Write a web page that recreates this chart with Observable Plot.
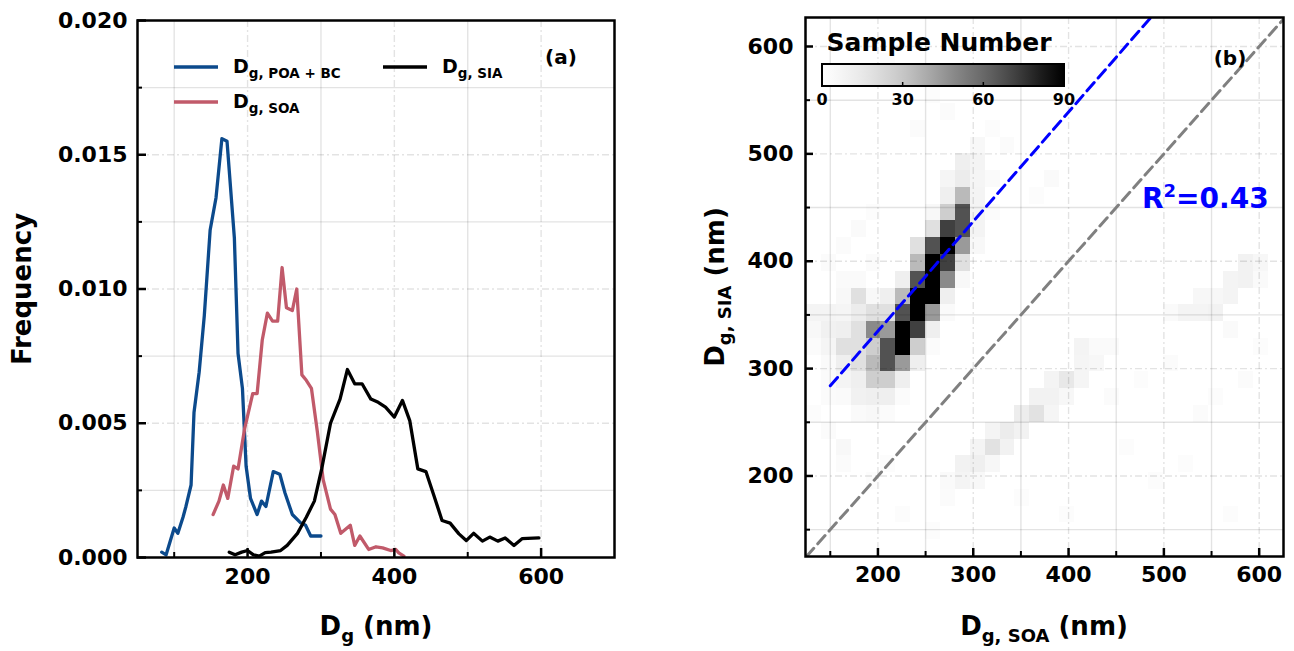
<!DOCTYPE html>
<html><head><meta charset="utf-8">
<script src="https://cdn.jsdelivr.net/npm/d3@7"></script>
<script src="https://cdn.jsdelivr.net/npm/@observablehq/plot@0.6"></script>
<style>
html,body{margin:0;padding:0;background:#fff;}
#wrap{position:relative;width:1294px;height:651px;overflow:hidden;font-family:"DejaVu Sans",sans-serif;}
#pa{position:absolute;left:0;top:0;}
#pb{position:absolute;left:640px;top:0;}
</style></head>
<body><div id="wrap"><div id="pa"></div><div id="pb"></div></div>
<script>
// ---------- Panel (a) data: frequency distributions ----------
const poaX = [83, 89, 100, 105, 112, 116, 123, 127, 134, 141, 149, 157, 165, 172, 182, 187, 193, 198, 204, 213, 219, 225, 235, 244, 251, 261, 272, 279, 286, 300];
const poaY = [0.0002, 0.0001, 0.0011, 0.0009, 0.0015, 0.0019, 0.0027, 0.0054, 0.0069, 0.0090, 0.0122, 0.0134, 0.0156, 0.0155, 0.0119, 0.0076, 0.0063, 0.0034, 0.0022, 0.0016, 0.0021, 0.0019, 0.0032, 0.0031, 0.0024, 0.0016, 0.0013, 0.0012, 0.0008, 0.0008];
const soaX = [153, 161, 167, 173, 181, 187, 196, 207, 213, 220, 227, 234, 241, 247, 253, 261, 267, 274, 280, 287, 295, 303, 313, 319, 327, 340, 346, 353, 365, 375, 384, 395, 402, 406, 413];
const soaY = [0.0016, 0.0021, 0.0027, 0.0022, 0.0034, 0.0033, 0.0048, 0.0061, 0.0061, 0.0081, 0.0091, 0.0088, 0.0088, 0.0108, 0.0093, 0.0092, 0.0100, 0.0068, 0.0066, 0.0063, 0.0047, 0.0029, 0.0018, 0.0016, 0.0009, 0.0012, 0.00045, 0.0008, 0.0003, 0.0004, 0.00036, 0.00026, 0.0003, 0.00017, 0.00005];
const siaX = [175, 183, 192, 200, 208, 216, 224, 232, 245, 254, 268, 280, 291, 301, 313, 326, 336, 346, 356, 368, 378, 388, 400, 411, 421, 432, 443, 454, 465, 476, 488, 498, 508, 520, 530, 541, 551, 563, 574, 597];
const siaY = [0.0002, 0.0001, 0.0002, 0.00026, 0.0001, 0.00005, 0.00018, 0.0002, 0.00026, 0.00045, 0.0009, 0.0015, 0.0021, 0.0033, 0.0050, 0.0059, 0.0070, 0.00647, 0.00647, 0.0059, 0.00578, 0.0056, 0.00523, 0.00585, 0.0051, 0.0033, 0.0032, 0.0023, 0.00138, 0.00128, 0.00088, 0.00063, 0.0009, 0.00061, 0.00076, 0.00061, 0.00073, 0.00045, 0.0007, 0.00073];

const xDomainA = [50, 700];
const yDomainA = [0, 0.02];
const xMajorA = [200, 400, 600];
const xMinorA = [100, 300, 500];
const yMajorA = [0, 0.005, 0.010, 0.015, 0.020];
const yMinorA = [0.0025, 0.0075, 0.0125, 0.0175];

// ---------- Panel (b) data: 2-D histogram (bin index SOA, bin index SIA, sample number) ----------
const binStart = 125, binStep = 15.625;
const heatCells = [
  [0,14,8],[0,13,5],[0,12,3],[0,8,2],
  [1,14,8],[1,13,10],[1,12,7],[1,11,4],[1,10,3],[1,9,3],[1,7,3],[1,17,3],
  [2,15,5],[2,14,7],[2,13,11],[2,12,19],[2,11,11],[2,10,8],[2,9,4],[2,6,5],[2,5,3],[2,16,4],[2,18,3],
  [3,16,4],[3,15,19],[3,14,13],[3,13,19],[3,12,19],[3,11,19],[3,10,11],[3,9,10],[3,8,4],[3,19,4],[3,28,2],
  [4,15,5],[4,14,19],[4,13,49],[4,12,27],[4,11,34],[4,10,27],[4,9,11],[4,8,5],[4,4,2],[4,17,3],[4,20,2],
  [5,15,11],[5,14,19],[5,13,44],[5,12,67],[5,11,67],[5,10,27],[5,9,11],[5,8,3],[5,5,2],[5,29,2],
  [6,16,11],[6,15,34],[6,14,67],[6,13,90],[6,12,90],[6,11,44],[6,10,11],[6,9,3],[6,2,2],[6,28,2],
  [7,18,19],[7,17,34],[7,16,67],[7,15,90],[7,14,90],[7,13,72],[7,12,27],[7,11,11],[7,25,3],
  [8,20,5],[8,19,19],[8,18,67],[8,17,90],[8,16,90],[8,15,90],[8,14,44],[8,13,11],[8,12,3],[8,27,2],[8,1,2],
  [9,22,7],[9,21,11],[9,20,27],[9,19,72],[9,18,90],[9,17,72],[9,16,49],[9,15,11],[9,14,4],[9,4,4],[9,3,3],[9,26,3],
  [10,23,11],[10,22,13],[10,21,34],[10,20,67],[10,19,67],[10,18,44],[10,17,19],[10,16,5],[10,4,8],[10,5,9],
  [11,24,5],[11,23,8],[11,22,7],[11,21,8],[11,20,8],[11,19,8],[11,18,5],[11,5,11],[11,6,8],[11,4,5],
  [12,22,4],[12,20,3],[12,6,18],[12,7,8],[12,5,6],[12,25,2],
  [13,6,9],[13,7,13],[13,24,3],
  [14,7,9],[14,8,12],[14,3,2],
  [15,8,18],[15,9,9],[15,21,2],
  [16,8,7],[16,9,9],[16,10,8],[16,22,4],
  [17,9,6],[17,10,15],[17,2,2],
  [18,11,7],[18,12,8],[18,10,7],
  [19,11,6],[19,12,4],
  [20,12,4],[20,9,3],[21,6,2],[22,10,2],[23,4,2],[24,11,3],[24,14,4],
  [25,14,8],[25,5,2],[26,14,8],[26,15,6],[26,8,3],[27,14,9],[27,15,6],[27,9,2],
  [28,15,8],[28,16,8],[28,13,4],[28,2,2],[29,16,9],[29,17,9],[29,10,3],[30,17,6],[30,16,4],[30,12,2]
];
const xDomainB = [124, 625.5];
const yDomainB = [125, 627];
const xyMajorB = [200, 300, 400, 500, 600];
const xyMinorB = [150, 250, 350, 450, 550];
const colorDomain = [0, 90];
const colorbarTicks = [0, 30, 60, 90];
const identityLine = [125, 625];
const fitSlope = 1.02, fitIntercept = 131, fitXRange = [150, 490];
const r2Text = "=0.43";

// ---------- helpers ----------
const FONT = "DejaVu Sans, sans-serif";
const gridStroke = "#000";
const gridOpacity = 0.11;
const dashDot = "7,3,2,3";
const pairs = (xs, ys) => xs.map((x, i) => ({x, y: ys[i]}));

function addSubText(svg, o) {
  const t = svg.append("text").attr("x", o.x).attr("y", o.y)
    .attr("text-anchor", o.anchor || "start")
    .attr("font-family", FONT).attr("font-weight", "bold")
    .attr("font-size", o.size).attr("fill", o.fill || "black");
  if (o.rotate) t.attr("transform", `rotate(-90,${o.x},${o.y})`);
  t.append("tspan").text(o.main);
  t.append("tspan").attr("font-size", o.subSize).attr("dy", o.shift).text(o.sub);
  if (o.tail) t.append("tspan").attr("font-size", o.size).attr("dy", -o.shift).text(o.tail);
  return t;
}

// ---------- Panel (a) ----------
const aW = 640, aH = 651, aM = {l: 137, r: 26, t: 20, b: 94};
const aPW = aW - aM.l - aM.r, aPH = aH - aM.t - aM.b;
const colPOA = "#0c4a8c", colSOA = "#c15a6a", colSIA = "#000000";

const plotA = Plot.plot({
  width: aW, height: aH,
  marginLeft: aM.l, marginRight: aM.r, marginTop: aM.t, marginBottom: aM.b,
  style: {fontFamily: FONT, fontSize: "22px", fontWeight: "bold", color: "black", background: "white"},
  x: {domain: xDomainA},
  y: {domain: yDomainA},
  marks: [
    Plot.ruleX(xMinorA, {x: d => d, stroke: gridStroke, strokeOpacity: gridOpacity, strokeWidth: 1.4}),
    Plot.ruleX(xMajorA, {x: d => d, stroke: gridStroke, strokeOpacity: gridOpacity, strokeWidth: 1.4, strokeDasharray: dashDot}),
    Plot.ruleY(yMinorA, {y: d => d, stroke: gridStroke, strokeOpacity: gridOpacity, strokeWidth: 1.4}),
    Plot.ruleY(yMajorA.slice(1, -1), {y: d => d, stroke: gridStroke, strokeOpacity: gridOpacity, strokeWidth: 1.4, strokeDasharray: dashDot}),
    Plot.line(pairs(poaX, poaY), {x: "x", y: "y", stroke: colPOA, strokeWidth: 3.3}),
    Plot.line(pairs(soaX, soaY), {x: "x", y: "y", stroke: colSOA, strokeWidth: 3.3}),
    Plot.line(pairs(siaX, siaY), {x: "x", y: "y", stroke: colSIA, strokeWidth: 3.3}),
    Plot.tickX(xMajorA, {x: d => d, insetTop: aPH - 9, stroke: "black", strokeWidth: 2.5}),
    Plot.tickX(xMinorA, {x: d => d, insetTop: aPH - 5, stroke: "black", strokeWidth: 2}),
    Plot.tickY(yMajorA, {y: d => d, insetRight: aPW - 9, stroke: "black", strokeWidth: 2.5}),
    Plot.tickY(yMinorA, {y: d => d, insetRight: aPW - 5, stroke: "black", strokeWidth: 2}),
    Plot.axisX({ticks: xMajorA, tickSize: 0, tickPadding: 11, label: null, fontSize: 22, fontWeight: "bold"}),
    Plot.axisY({ticks: yMajorA, tickSize: 0, tickPadding: 10, label: null, tickFormat: d3.format(".3f"), fontSize: 22, fontWeight: "bold"}),
    Plot.frame({stroke: "black", strokeWidth: 2.5})
  ]
});
document.getElementById("pa").appendChild(plotA);
const sa = d3.select(plotA);

// legend (a)
const legendA = [
  {color: colPOA, x: 174, y: 67, sub: "g, POA + BC"},
  {color: colSOA, x: 174, y: 102, sub: "g, SOA"},
  {color: colSIA, x: 383, y: 67, sub: "g, SIA"}
];
legendA.forEach(L => {
  sa.append("line").attr("x1", L.x).attr("x2", L.x + 44).attr("y1", L.y).attr("y2", L.y)
    .attr("stroke", L.color).attr("stroke-width", 3.5);
  addSubText(sa, {x: L.x + 59, y: L.y + 6, main: "D", sub: L.sub, size: 19, subSize: 13.5, shift: 5});
});
sa.append("text").attr("x", 561).attr("y", 64).attr("text-anchor", "middle")
  .attr("font-family", FONT).attr("font-weight", "bold").attr("font-size", 20).text("(a)");
sa.append("text").attr("x", 31).attr("y", 289).attr("text-anchor", "middle")
  .attr("transform", "rotate(-90,31,289)")
  .attr("font-family", FONT).attr("font-weight", "bold").attr("font-size", 26).text("Frequency");
addSubText(sa, {x: 376, y: 635, anchor: "middle", main: "D", sub: "g", tail: "\u00a0(nm)", size: 26, subSize: 18, shift: 7});

// ---------- Panel (b) ----------
const bW = 654, bH = 651, bM = {l: 165, r: 11, t: 17, b: 95};
const bPW = bW - bM.l - bM.r, bPH = bH - bM.t - bM.b;
const heat = heatCells.map(([c, r, n]) => ({
  x1: binStart + c * binStep, x2: binStart + (c + 1) * binStep,
  y1: binStart + r * binStep, y2: binStart + (r + 1) * binStep, n
}));

const plotB = Plot.plot({
  width: bW, height: bH,
  marginLeft: bM.l, marginRight: bM.r, marginTop: bM.t, marginBottom: bM.b,
  style: {fontFamily: FONT, fontSize: "22px", fontWeight: "bold", color: "black", background: "white"},
  x: {domain: xDomainB},
  y: {domain: yDomainB},
  color: {type: "linear", domain: colorDomain, scheme: "greys", clamp: true},
  marks: [
    Plot.rect(heat, {x1: "x1", x2: "x2", y1: "y1", y2: "y2", fill: "n", shapeRendering: "crispEdges"}),
    Plot.ruleX(xyMinorB, {x: d => d, stroke: gridStroke, strokeOpacity: gridOpacity, strokeWidth: 1.4}),
    Plot.ruleX(xyMajorB, {x: d => d, stroke: gridStroke, strokeOpacity: gridOpacity, strokeWidth: 1.4, strokeDasharray: dashDot}),
    Plot.ruleY(xyMinorB, {y: d => d, stroke: gridStroke, strokeOpacity: gridOpacity, strokeWidth: 1.4}),
    Plot.ruleY(xyMajorB, {y: d => d, stroke: gridStroke, strokeOpacity: gridOpacity, strokeWidth: 1.4, strokeDasharray: dashDot}),
    Plot.line(identityLine, {x: d => d, y: d => d, stroke: "#808080", strokeWidth: 3, strokeDasharray: "11,6", clip: true}),
    Plot.line(fitXRange, {x: d => d, y: d => fitSlope * d + fitIntercept, stroke: "#0000ff", strokeWidth: 3, strokeDasharray: "11,6", clip: true}),
    Plot.tickX(xyMajorB, {x: d => d, insetTop: bPH - 8, stroke: "black", strokeWidth: 2.5}),
    Plot.tickX(xyMinorB, {x: d => d, insetTop: bPH - 5, stroke: "black", strokeWidth: 2}),
    Plot.tickY(xyMajorB, {y: d => d, insetRight: bPW - 8, stroke: "black", strokeWidth: 2.5}),
    Plot.tickY(xyMinorB, {y: d => d, insetRight: bPW - 5, stroke: "black", strokeWidth: 2}),
    Plot.axisX({ticks: xyMajorB, tickSize: 0, tickPadding: 10, label: null, fontSize: 22, fontWeight: "bold"}),
    Plot.axisY({ticks: xyMajorB, tickSize: 0, tickPadding: 12, label: null, fontSize: 22, fontWeight: "bold"}),
    Plot.frame({stroke: "black", strokeWidth: 2.5})
  ]
});
document.getElementById("pb").appendChild(plotB);
const sb = d3.select(plotB);

// colorbar (inset)
const cbX = d3.scaleLinear(colorDomain, [182, 424]);
const cbY0 = 64, cbY1 = 86;
const defs = sb.append("defs");
const grad = defs.append("linearGradient").attr("id", "cbgrad").attr("x1", "0%").attr("x2", "100%");
d3.range(0, 1.0001, 0.05).forEach(t => grad.append("stop").attr("offset", (t * 100) + "%").attr("stop-color", d3.interpolateGreys(t)));
sb.append("rect").attr("x", cbX(colorDomain[0])).attr("y", cbY0).attr("width", cbX(colorDomain[1]) - cbX(colorDomain[0])).attr("height", cbY1 - cbY0)
  .attr("fill", "url(#cbgrad)").attr("stroke", "black").attr("stroke-width", 2);
colorbarTicks.forEach(v => {
  if (v > colorDomain[0] && v < colorDomain[1])
    sb.append("line").attr("x1", cbX(v)).attr("x2", cbX(v)).attr("y1", cbY1).attr("y2", cbY1 - 4).attr("stroke", "black").attr("stroke-width", 1.5);
  sb.append("text").attr("x", cbX(v)).attr("y", cbY1 + 19).attr("text-anchor", "middle")
    .attr("font-family", FONT).attr("font-weight", "bold").attr("font-size", 16).text(v);
});
sb.append("text").attr("x", 299).attr("y", 51).attr("text-anchor", "middle")
  .attr("font-family", FONT).attr("font-weight", "bold").attr("font-size", 25).text("Sample Number");
sb.append("text").attr("x", 590).attr("y", 65).attr("text-anchor", "middle")
  .attr("font-family", FONT).attr("font-weight", "bold").attr("font-size", 20).text("(b)");
// R^2
const rt = sb.append("text").attr("x", 502).attr("y", 208).attr("text-anchor", "start")
  .attr("font-family", FONT).attr("font-weight", "bold").attr("font-size", 28).attr("fill", "#0000ff");
rt.append("tspan").text("R");
rt.append("tspan").attr("font-size", 18).attr("dy", -11).text("2");
rt.append("tspan").attr("dy", 11).text(r2Text);
// axis labels
addSubText(sb, {x: 84, y: 287, anchor: "middle", rotate: true, main: "D", sub: "g, SIA", tail: "\u00a0(nm)", size: 26, subSize: 18, shift: 7});
addSubText(sb, {x: 404, y: 635, anchor: "middle", main: "D", sub: "g, SOA", tail: "\u00a0(nm)", size: 26, subSize: 18, shift: 7});
</script>
</body></html>
